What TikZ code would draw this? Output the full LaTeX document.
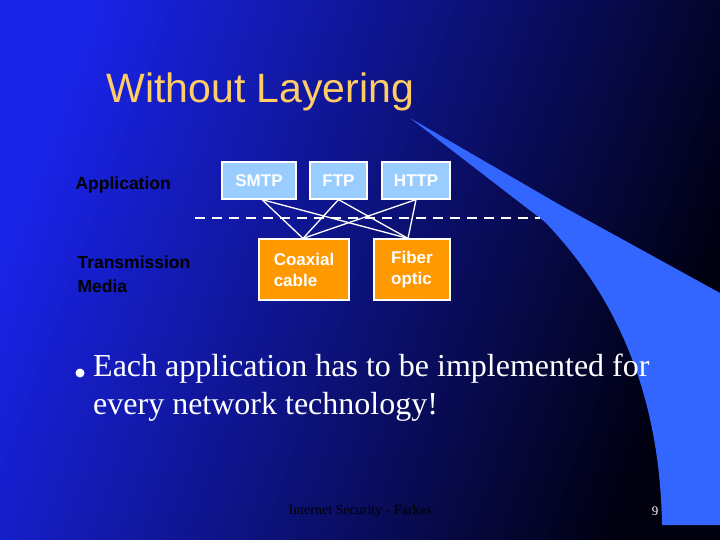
\documentclass[tikz,border=0pt]{standalone}
\usepackage{fontspec}
\setmainfont{Liberation Serif}
\setsansfont{Liberation Sans}
\begin{document}
\begin{tikzpicture}[x=1pt,y=-1pt,
  proto/.style={draw=white,line width=1.2pt,fill={rgb,255:red,153;green,204;blue,255},minimum height=37pt,inner sep=0pt,text=white,font=\sffamily\bfseries\fontsize{17}{19}\selectfont},
  media/.style={draw=white,line width=1.2pt,fill={rgb,255:red,255;green,153;blue,0},minimum height=61pt,inner sep=0pt,text=white,font=\sffamily\bfseries\fontsize{17}{21}\selectfont,align=left},
  lbl/.style={anchor=west,text=black,font=\sffamily\bfseries\fontsize{17.5}{24}\selectfont,align=left},
  conn/.style={white,line width=1.3pt}]
\definecolor{bgl}{RGB}{25,35,230}
\definecolor{bgr}{RGB}{0,0,15}
\definecolor{sw}{RGB}{51,102,255}
\path[use as bounding box] (0,0) rectangle (720,540);
\shade[left color=bgl,right color=bgr,shading angle=70] (0,0) rectangle (720,540);
\fill[sw] (410,118) -- (560,205) -- (720,293) -- (720,525) -- (662,525)
  .. controls (660,400) and (620,300) .. (545,222) -- (410,118) -- cycle;
\node[anchor=west,text={rgb,255:red,255;green,204;blue,102},font=\sffamily\fontsize{41}{46}\selectfont] (title) at (103,92) {Without Layering};
\node[lbl] (app) at (72,185) {Application};
\node[lbl] (tm) at (74,274) {Transmission\\Media};
\node[proto,minimum width=74pt] (smtp) at (259,180.5) {SMTP};
\node[proto,minimum width=57pt] (ftp) at (338.5,180.5) {FTP};
\node[proto,minimum width=68pt] (http) at (416,180.5) {HTTP};
\node[media,minimum width=90pt] (coax) at (304,269.5) {Coaxial\\cable};
\node[media,minimum width=76pt] (fiber) at (412,269.5) {Fiber\\optic};
\coordinate (d1) at (195,218);
\coordinate (d2) at (540,218);
\draw[white,line width=1.3pt,dash pattern=on 10pt off 7pt] (d1) -- (d2);
\foreach \p/\xo in {smtp/3,ftp/0,http/0}{
  \draw[conn] ([xshift=\xo pt]\p.south) -- ([xshift=-1pt]coax.north);
  \draw[conn] ([xshift=\xo pt]\p.south) -- ([xshift=-4pt]fiber.north);
}
\node[circle,fill=white,inner sep=0pt,minimum size=9pt] (bul) at (80,373) {};
\node[anchor=north west,text=white,font=\fontsize{32}{38}\selectfont,align=left,inner sep=0pt] (txt) at (93,354) {Each application has to be implemented for\\every network technology!};
\node[text=black,font=\fontsize{14}{16}\selectfont] (foot) at (360,511) {Internet Security - Farkas};
\node[text=white,font=\fontsize{13}{16}\selectfont] (num) at (655,511) {9};
\end{tikzpicture}
\end{document}
